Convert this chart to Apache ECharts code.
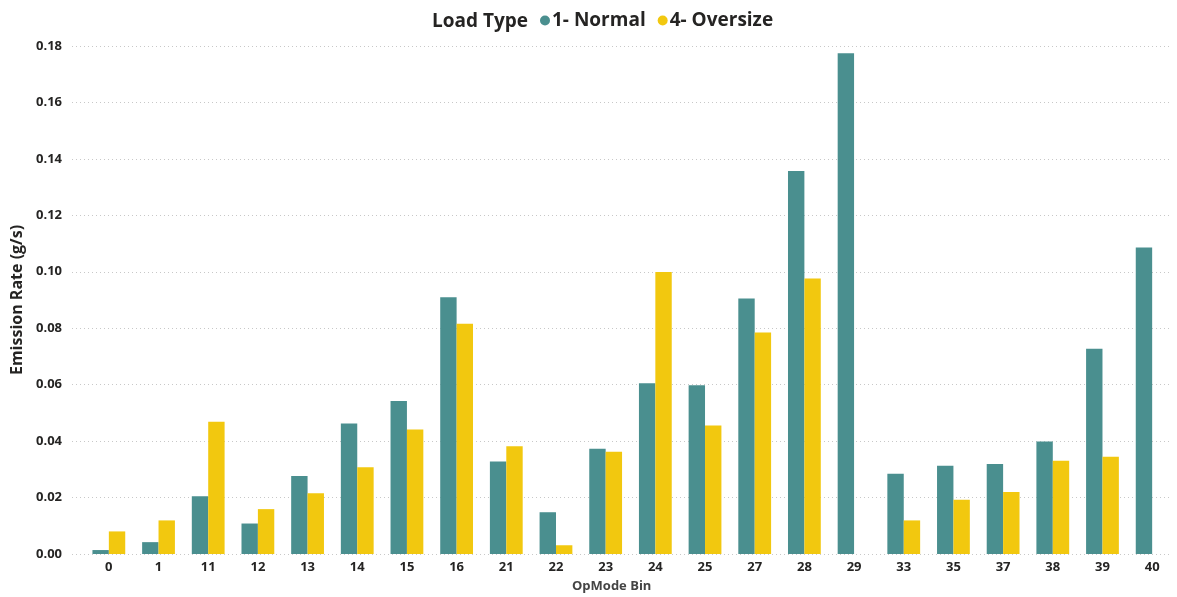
<!DOCTYPE html>
<html>
<head>
<meta charset="utf-8">
<script src="https://cdn.jsdelivr.net/npm/echarts@6/dist/echarts.min.js"></script>
<style>
html,body{margin:0;padding:0;background:#fff;}
#c{width:1177px;height:597px;}
</style>
</head>
<body>
<div id="c"></div>
<script>
const categories = ['0','1','11','12','13','14','15','16','21','22','23','24','25','27','28','29','33','35','37','38','39','40'];
const normal   = [0.0014,0.0042,0.0205,0.0108,0.0276,0.0462,0.0542,0.0910,0.0328,0.0148,0.0373,0.0605,0.0598,0.0905,0.1357,0.1774,0.0284,0.0313,0.0319,0.0399,0.0727,0.1086];
const oversize = [0.0080,0.0119,0.0469,0.0159,0.0215,0.0307,0.0441,0.0816,0.0382,0.0031,0.0362,0.0999,0.0455,0.0785,0.0976,null,0.0119,0.0192,0.0220,0.0330,0.0345,null];
const yTicks = {min:0, max:0.18, interval:0.02};

const FONT = '"Open Sans", "Noto Sans", sans-serif';
const chart = echarts.init(document.getElementById('c'), null, {renderer:'canvas'});
chart.setOption({
  animation:false,
  backgroundColor:'#ffffff',
  title:{text:'Load Type', left:427, top:7, textStyle:{fontFamily:FONT, fontSize:19, fontWeight:'bold', color:'#252423'}},
  legend:{left:535, top:6, icon:'circle', itemWidth:10, itemHeight:10, itemGap:12,
    textStyle:{fontFamily:FONT, fontSize:19, fontWeight:'bold', color:'#252423', padding:[0,0,0,-3]},
    data:['1- Normal','4- Oversize']},
  grid:[
    {left:72, right:7, top:46, bottom:43},
    {left:84, right:-6, top:46, bottom:43}
  ],
  xAxis:[
    {gridIndex:0, type:'category', data:categories, show:false},
    {gridIndex:1, type:'category', data:categories,
      axisLine:{show:false}, axisTick:{show:false},
      axisLabel:{fontFamily:FONT, fontSize:13, fontWeight:'bold', color:'#252423', margin:7, interval:0}}
  ],
  yAxis:[
    {gridIndex:0, type:'value', min:yTicks.min, max:yTicks.max, interval:yTicks.interval,
      name:'Emission Rate (g/s)', nameLocation:'middle', nameGap:44,
      nameTextStyle:{fontFamily:FONT, fontSize:16, fontWeight:'bold', color:'#252423'},
      axisLine:{show:false}, axisTick:{show:false},
      axisLabel:{fontFamily:FONT, fontSize:13, fontWeight:'bold', color:'#252423', margin:10, formatter:v=>v.toFixed(2)},
      splitLine:{lineStyle:{type:[1,3], color:'#c8c8c8', width:1}}},
    {gridIndex:1, type:'value', min:yTicks.min, max:yTicks.max, interval:yTicks.interval, show:false, splitLine:{show:false}}
  ],
  graphic:[{type:'text', left:572, top:580, style:{text:'OpMode Bin', fontFamily:FONT, fontSize:13, fontWeight:'bold', fill:'#444444'}}],
  series:[
    {name:'1- Normal', type:'bar', xAxisIndex:1, yAxisIndex:1, data:normal, barCategoryGap:'34%', barGap:'0%', itemStyle:{color:'#4a8f8f'}},
    {name:'4- Oversize', type:'bar', xAxisIndex:1, yAxisIndex:1, data:oversize, barCategoryGap:'34%', barGap:'0%', itemStyle:{color:'#f2c80f'}}
  ]
});
</script>
</body>
</html>
